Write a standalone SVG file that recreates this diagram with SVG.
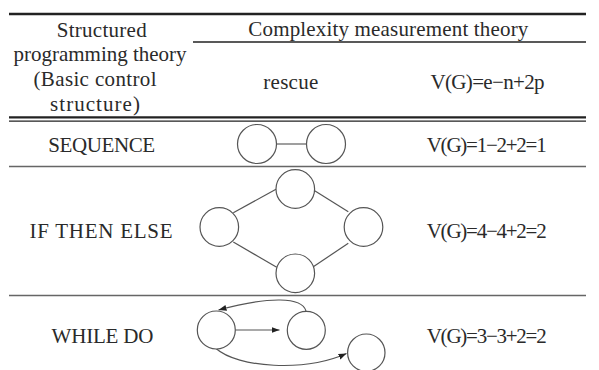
<svg xmlns="http://www.w3.org/2000/svg" width="599" height="370" viewBox="0 0 599 370">
  <defs>
    <style>
      .node { fill: #fff; stroke: #555; stroke-width: 1.2; }
      .edge { fill: none; stroke: #555; stroke-width: 1.2; }
      .rule { stroke: #222; }
      .sep { stroke: #666; stroke-width: 1.5; }
    </style>
    <marker id="arrow" markerUnits="userSpaceOnUse" markerWidth="9" markerHeight="7" refX="8" refY="3" orient="auto">
      <path d="M0,0 L8,3 L0,6 z" fill="#222"/>
    </marker>
  </defs>

  <rect width="599" height="370" fill="#fff"/>

  <!-- table rules -->
  <g id="rules">
    <line class="rule" x1="9" y1="14" x2="586" y2="14" stroke-width="2.5"/>
    <line class="rule" x1="193" y1="42" x2="586" y2="42" stroke-width="1.3"/>
    <line class="rule" x1="9" y1="117.3" x2="586" y2="117.3" stroke-width="2.2"/>
    <line class="rule" x1="9" y1="121.2" x2="586" y2="121.2" stroke-width="1.2"/>
    <line class="sep" x1="9" y1="166.5" x2="586" y2="166.5"/>
    <line class="sep" x1="9" y1="295.5" x2="586" y2="295.5"/>
  </g>

  <g font-family="Liberation Serif, DejaVu Serif, serif" font-size="21" fill="#2a2a2a" text-anchor="middle">
    <!-- header -->
    <g id="header">
      <text x="101.7" y="36.5" textLength="90" lengthAdjust="spacing">Structured</text>
      <text x="100" y="61" textLength="173" lengthAdjust="spacing">programming theory</text>
      <text x="95" y="86" textLength="123" lengthAdjust="spacing">(Basic control</text>
      <text x="95" y="111" textLength="90" lengthAdjust="spacing">structure)</text>
      <text x="388.3" y="36" textLength="280" lengthAdjust="spacing">Complexity measurement theory</text>
      <text x="290.8" y="88.5" textLength="55" lengthAdjust="spacing">rescue</text>
      <text x="487.5" y="88.5" textLength="114" lengthAdjust="spacing">V(G)=e−n+2p</text>
    </g>

    <!-- row labels and formulas -->
    <g id="rows">
      <text x="101.7" y="151.5" textLength="107" lengthAdjust="spacing">SEQUENCE</text>
      <text x="486.7" y="152" textLength="120" lengthAdjust="spacing">V(G)=1−2+2=1</text>
      <text x="101" y="238" textLength="143" lengthAdjust="spacing">IF THEN ELSE</text>
      <text x="486.7" y="238" textLength="120" lengthAdjust="spacing">V(G)=4−4+2=2</text>
      <text x="102.5" y="343" textLength="102" lengthAdjust="spacing">WHILE DO</text>
      <text x="486.7" y="343" textLength="120" lengthAdjust="spacing">V(G)=3−3+2=2</text>
    </g>
  </g>

  <!-- connectors -->
  <g id="connectors">
    <line x1="276.5" y1="144" x2="306.5" y2="144" stroke="#888" stroke-width="1.6"/>
    <line class="edge" x1="276" y1="189.3" x2="233.3" y2="212.7"/>
    <line class="edge" x1="314.7" y1="190.7" x2="348.3" y2="211.7"/>
    <line class="edge" x1="233.3" y1="242" x2="276.7" y2="267.3"/>
    <line class="edge" x1="348.3" y1="243.3" x2="313.3" y2="266.7"/>
    <line class="edge" x1="235.3" y1="330" x2="279.5" y2="330" marker-end="url(#arrow)"/>
    <path class="edge" d="M306,311 C302,297 270,296 218.5,310" marker-end="url(#arrow)"/>
    <path class="edge" d="M216,348.5 C238,368 305,372 346.5,353.5" marker-end="url(#arrow)"/>
  </g>

  <!-- SEQUENCE nodes -->
  <g id="seq-a"><circle class="node" cx="257" cy="144" r="19.5"/></g>
  <g id="seq-b"><circle class="node" cx="326" cy="144" r="19.5"/></g>

  <!-- IF THEN ELSE nodes -->
  <g id="if-top"><circle class="node" cx="295.3" cy="189" r="19.3"/></g>
  <g id="if-left"><circle class="node" cx="219.3" cy="227" r="19.3"/></g>
  <g id="if-right"><circle class="node" cx="363.5" cy="227" r="19.3"/></g>
  <g id="if-bottom"><circle class="node" cx="295.3" cy="273.3" r="19.3"/></g>

  <!-- WHILE DO nodes -->
  <g id="while-a"><circle class="node" cx="216.3" cy="330" r="19"/></g>
  <g id="while-b"><circle class="node" cx="306.3" cy="330.3" r="19"/></g>
  <g id="while-c"><circle class="node" cx="366.3" cy="352.7" r="18.7"/></g>
</svg>
